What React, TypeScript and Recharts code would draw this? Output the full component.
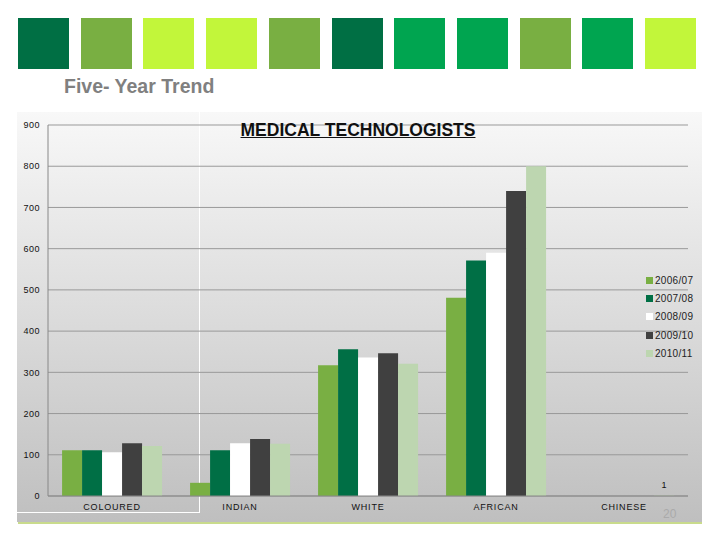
import React from 'react';
import { BarChart, Bar, XAxis, YAxis, CartesianGrid, LabelList } from 'recharts';

const categories = ['COLOURED', 'INDIAN', 'WHITE', 'AFRICAN', 'CHINESE'];
const years = ['2006/07', '2007/08', '2008/09', '2009/10', '2010/11'];
const y0607 = [111, 32, 317, 481, 0];
const y0708 = [111, 111, 356, 571, 0];
const y0809 = [106, 128, 336, 590, 0];
const y0910 = [128, 138, 346, 740, 0];
const y1011 = [121, 127, 321, 800, 1];
const yTicks = [0, 100, 200, 300, 400, 500, 600, 700, 800, 900];

const seriesValues = [y0607, y0708, y0809, y0910, y1011];
const COLORS = ['#79AF43', '#006F45', '#FFFFFF', '#404040', '#BDD6B0'];
const SQUARES = ['#006F44', '#79AF42', '#C2F63A', '#C2F63A', '#79AF42', '#006F44', '#00A550', '#00A550', '#79AF42', '#00A550', '#C2F63A'];

const data = categories.map((c, i) => {
  const row: Record<string, any> = { name: c };
  years.forEach((y, j) => { row[y] = seriesValues[j][i]; });
  return row;
});

const FONT = '"Liberation Sans", Arial, sans-serif';

function LegendBox() {
  return (
    <div style={{ position: 'absolute', left: 646, top: 271, fontFamily: FONT, fontSize: 10, color: '#222' }}>
      {years.map((y, i) => (
        <div key={y} style={{ display: 'flex', alignItems: 'center', height: 18.3 }}>
          <span style={{ width: 7, height: 7, background: COLORS[i], marginRight: 2, display: 'inline-block' }} />
          <span style={{ letterSpacing: 0.3 }}>{y}</span>
        </div>
      ))}
    </div>
  );
}

export default function App() {
  return (
    <div style={{ position: 'absolute', left: 0, top: 0, width: 720, height: 540, background: '#fff', overflow: 'hidden' }}>
      {SQUARES.map((c, i) => (
        <div key={i} style={{ position: 'absolute', top: 18, left: 18 + i * 62.7, width: 51, height: 51, background: c }} />
      ))}
      <div style={{ position: 'absolute', left: 64, top: 75, fontFamily: FONT, fontWeight: 'bold', fontSize: 19.5, color: '#808080' }}>
        Five- Year Trend
      </div>
      <div style={{ position: 'absolute', left: 17, top: 112, width: 685, height: 410, background: 'linear-gradient(#f8f8f8, #bfbfbf)' }} />
      <div style={{ position: 'absolute', left: 17, top: 110, width: 182, height: 402, borderRight: '1.5px solid #fff', borderBottom: '1.5px solid #fff' }} />
      <div style={{ position: 'absolute', left: 18, top: 522, width: 684, height: 1.5, background: '#C9DB8C' }} />
      <div style={{ position: 'absolute', left: 663, top: 507, fontFamily: FONT, fontSize: 12, color: '#aaa' }}>20</div>
      <div style={{ position: 'absolute', left: 0, top: 0 }}>
        <BarChart width={720} height={540} data={data} margin={{ top: 125, right: 32, bottom: 14, left: 18 }}
          barCategoryGap="11%" barGap={0}>
          <CartesianGrid vertical={false} stroke="#999" />
          <XAxis dataKey="name" axisLine={{ stroke: '#888' }} tickLine={false} height={30}
            tick={{ fontSize: 9, fill: '#111', fontFamily: FONT, letterSpacing: 0.8 }} />
          <YAxis domain={[0, 900]} ticks={yTicks} width={30} axisLine={{ stroke: '#888' }} tickLine={false}
            tick={{ fontSize: 9, fill: '#111', fontFamily: FONT, letterSpacing: 0.5 }} />
          {years.map((y, i) => (
            <Bar key={y} dataKey={y} fill={COLORS[i]} isAnimationActive={false}>
              {i === years.length - 1 && (
                <LabelList dataKey={y} content={(p: any) => p.index === 4 ? (
                  <text x={p.x + p.width / 2} y={p.y - 8} textAnchor="middle" fontSize={9} fontFamily={FONT} fill="#111">{p.value}</text>
                ) : null} />
              )}
            </Bar>
          ))}
        </BarChart>
      </div>
      <LegendBox />
      <div style={{ position: 'absolute', left: 0, width: 716, top: 120, textAlign: 'center', fontFamily: FONT, fontWeight: 'bold', fontSize: 17.5, textDecoration: 'underline', color: '#111' }}>
        MEDICAL TECHNOLOGISTS
      </div>
    </div>
  );
}
